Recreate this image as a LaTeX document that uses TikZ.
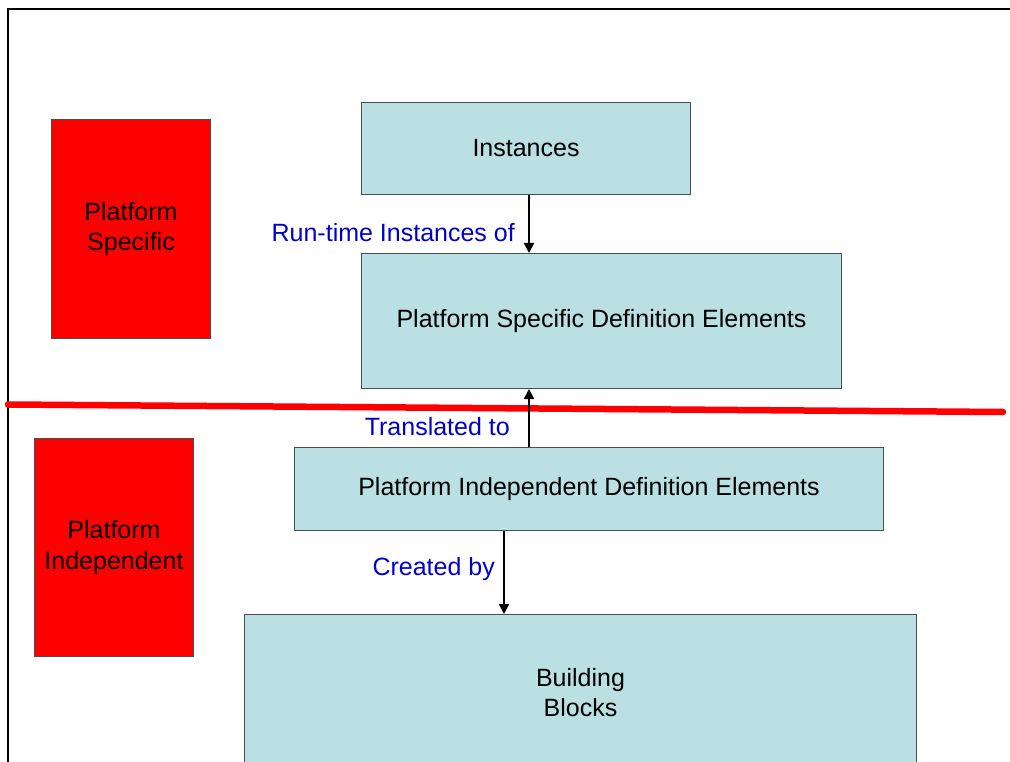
\documentclass[tikz,border=0pt]{standalone}
\usepackage{fontspec}
\setmainfont{Liberation Sans}
\usetikzlibrary{arrows.meta}
\definecolor{boxfill}{RGB}{187,224,227}
\definecolor{boxline}{RGB}{70,80,80}
\definecolor{lblue}{RGB}{0,0,204}
\tikzset{
  box/.style={draw=boxline, line width=1pt, fill=boxfill, anchor=north west, inner sep=0pt, align=center, font=\fontsize{25}{30}\selectfont},
  redbox/.style={draw=boxline, line width=1pt, fill=red, anchor=north west, inner sep=0pt, align=center, font=\fontsize{25}{30.5}\selectfont},
  lbl/.style={text=lblue, inner sep=0pt, font=\fontsize{25}{30}\selectfont},
  arr/.style={draw=black, line width=2pt, -{Triangle[width=10pt,length=10pt]}},
}
\begin{document}
\begin{tikzpicture}[x=1pt,y=-1pt]
\useasboundingbox (0,0) rectangle (1010,762);
\begin{scope}
\clip (0,0) rectangle (1010,762);
% outer frame
\draw[line width=2pt, black] (8,780) -- (8,9) -- (1030,9);
% boxes
\node[box, minimum width=329pt, minimum height=92pt] (inst) at (361,102) {Instances};
\node[box, minimum width=480pt, minimum height=135pt] (psde) at (361,253) {Platform Specific Definition Elements};
\node[box, minimum width=589pt, minimum height=83pt] (pide) at (294,447) {Platform Independent Definition Elements};
\node[box, minimum width=672pt, minimum height=156pt] (bb) at (244,614) {Building\\Blocks};
\node[redbox, minimum width=159pt, minimum height=219pt] (ps) at (51,119) {Platform\\Specific};
\node[redbox, minimum width=159pt, minimum height=218pt] (pi) at (34,438) {Platform\\Independent};
% red divider
\coordinate (rl) at (8,404.5);
\coordinate (rr) at (1003,412);
\draw[red, line width=6.5pt, line cap=round] (rl) -- (rr);
% arrows
\coordinate (a1) at (529,0);
\coordinate (a2) at (504,0);
\draw[arr] (inst.south -| a1) -- (psde.north -| a1);
\draw[arr] (pide.north -| a1) -- (psde.south -| a1);
\draw[arr] (pide.south -| a2) -- (bb.north -| a2);
% labels
\node[lbl, anchor=east] (l1) at (515,233) {Run-time Instances of};
\node[lbl, anchor=east] (l2) at (510,427) {Translated to};
\node[lbl, anchor=east] (l3) at (495,569) {Created by};
\end{scope}
\end{tikzpicture}
\end{document}
